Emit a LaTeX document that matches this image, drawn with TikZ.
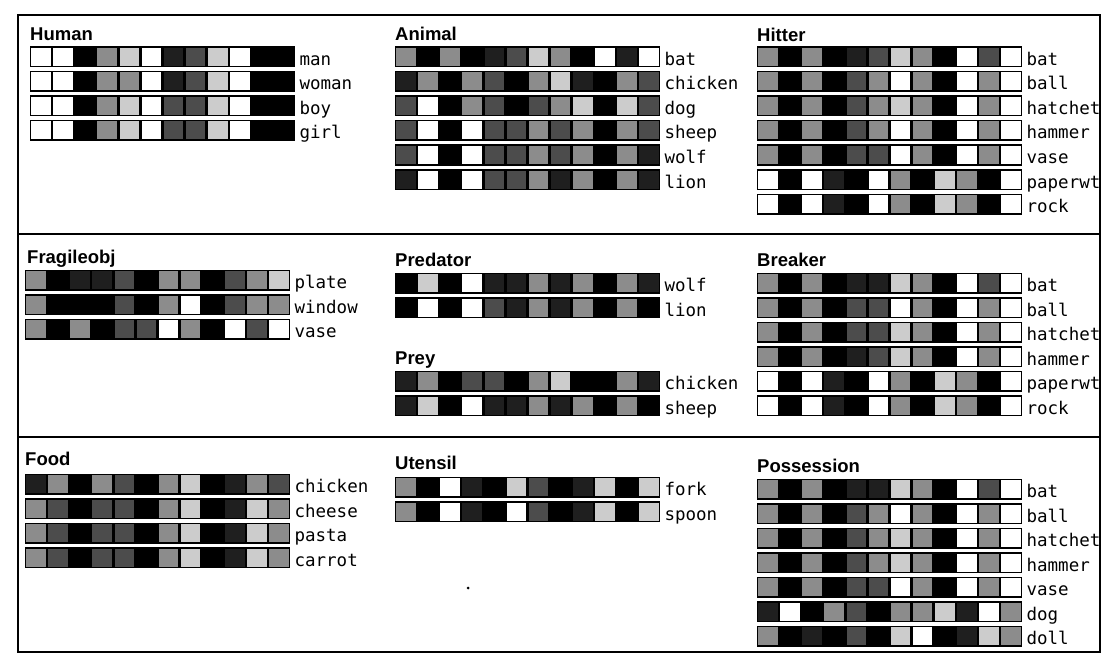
\documentclass[tikz,border=0pt]{standalone}
\usepackage{fontspec}
\setmainfont{Liberation Sans}
\setmonofont{DejaVu Sans Mono}
\usetikzlibrary{calc,positioning}

% grey levels of the dithered units (0 = off, 5 = fully on)
\definecolor{dither0}{gray}{0}
\definecolor{dither1}{gray}{0.12}
\definecolor{dither2}{gray}{0.3}
\definecolor{dither3}{gray}{0.55}
\definecolor{dither4}{gray}{0.8}
\definecolor{dither5}{gray}{1}

\begin{document}
\begin{tikzpicture}[
  x=1pt,y=-1pt,
  unitbar/.style={fill=black,inner sep=0pt,minimum width=265pt,
    minimum height=21pt,anchor=west},
  paneltitle/.style={font=\bfseries\fontsize{18.5}{18.5}\selectfont,
    anchor=base west,inner sep=0pt},
  wordlabel/.style={font=\ttfamily\fontsize{17.5}{17.5}\selectfont,
    inner sep=0pt},
  frameline/.style={line width=1.6pt,line cap=round}
]
  \useasboundingbox (0,0) rectangle (1108,666);

  % Unit geometry.
  \def\cellw{22.08}
  \def\cellgap{1.2}
  \def\rowstep{24.5}

  % #1 name, #2 left x, #3 y of first bar, #4 word/levels list
  \def\panelrows#1#2#3#4{%
    \foreach \word/\cells [count=\k] in {#4}{
      \node[unitbar] (#1\k) at (#2,{#3+\rowstep*(\k-1)}) {};
      \foreach \lev [count=\i from 0] in \cells
        \fill[fill=dither\lev]
          ($(#1\k.west)+({\i*\cellw+\cellgap},-9)$)
          rectangle ++({\cellw-2*\cellgap},18);
      \node[wordlabel,base right=4pt of #1\k,yshift=-8.5pt]
        (#1\k-word) {\word};
    }}

  % Frame and panel separators.
  \draw[frameline] (18,15) rectangle (1100,652);
  \draw[frameline] (18,234) -- (1100,234);
  \draw[frameline] (18,437) -- (1100,437);

  % Top row.
  \node[paneltitle] (human) at (30,41) {Human};
  \panelrows{human}{30}{57}{
    man/{5,5,0,3,4,5,1,2,4,5,0,0},
    woman/{5,5,0,3,3,5,1,2,4,5,0,0},
    boy/{5,5,0,3,4,5,2,2,4,5,0,0},
    girl/{5,5,0,3,4,5,2,2,4,5,0,0}}

  \node[paneltitle] (animal) at (395,41) {Animal};
  \panelrows{animal}{395}{57}{
    bat/{3,0,3,0,1,2,4,3,0,5,1,5},
    chicken/{1,3,0,3,2,0,3,4,1,0,3,2},
    dog/{2,5,0,3,2,0,2,3,4,0,4,2},
    sheep/{2,5,0,5,2,2,3,2,3,0,3,2},
    wolf/{2,5,0,5,2,2,3,2,3,0,3,1},
    lion/{1,5,0,5,2,2,3,1,3,0,3,1}}

  \node[paneltitle] (hitter) at (757,42) {Hitter};
  \panelrows{hitter}{757}{57}{
    bat/{3,0,3,0,1,2,4,3,0,5,2,5},
    ball/{3,0,3,0,2,3,5,3,0,5,3,5},
    hatchet/{3,0,3,0,2,3,4,3,0,5,3,5},
    hammer/{3,0,3,0,2,3,5,3,0,5,3,5},
    vase/{3,0,3,0,2,2,5,3,0,5,3,5},
    paperwt/{5,0,5,1,0,5,3,0,4,3,0,5},
    rock/{5,0,5,1,0,5,3,0,4,3,0,5}}

  % Middle row.
  \node[paneltitle] (fragile) at (27,263) {Fragileobj};
  \panelrows{fragile}{25}{280}{
    plate/{3,0,1,1,2,0,3,3,0,2,3,4},
    window/{3,0,0,0,2,0,3,5,0,2,3,3},
    vase/{3,0,3,0,2,2,5,3,0,5,2,5}}

  \node[paneltitle] (predator) at (395,266) {Predator};
  \panelrows{predator}{395}{283}{
    wolf/{0,4,0,5,1,1,3,1,3,0,3,1},
    lion/{0,5,0,5,2,1,3,1,3,0,3,0}}

  \node[paneltitle] (prey) at (395,364) {Prey};
  \panelrows{prey}{395}{381}{
    chicken/{1,3,0,2,2,0,3,4,0,0,3,1},
    sheep/{1,4,0,5,1,1,3,1,3,0,3,0}}

  \node[paneltitle] (breaker) at (757,266) {Breaker};
  \panelrows{breaker}{757}{283}{
    bat/{3,0,3,0,1,1,4,3,0,5,2,5},
    ball/{3,0,3,0,2,2,5,3,0,5,3,5},
    hatchet/{3,0,3,0,2,2,4,3,0,5,3,5},
    hammer/{3,0,3,0,1,2,4,3,0,5,3,5},
    paperwt/{5,0,5,1,0,5,3,0,4,3,0,5},
    rock/{5,0,5,1,0,5,3,0,4,3,0,5}}

  % Bottom row.
  \node[paneltitle] (food) at (25,465) {Food};
  \panelrows{food}{25}{484}{
    chicken/{1,3,0,3,2,0,3,4,0,1,3,2},
    cheese/{3,2,0,2,2,0,3,4,0,1,4,3},
    pasta/{3,2,0,2,2,0,3,4,0,1,4,3},
    carrot/{3,2,0,2,2,0,3,4,0,1,4,3}}

  \node[paneltitle] (utensil) at (395,469) {Utensil};
  \panelrows{utensil}{395}{487}{
    fork/{3,0,5,1,0,4,2,0,1,4,0,4},
    spoon/{3,0,5,1,0,5,2,0,1,4,0,4}}

  \node[paneltitle] (possession) at (757,472) {Possession};
  \panelrows{possession}{757}{489}{
    bat/{3,0,3,0,1,1,4,3,0,5,2,5},
    ball/{3,0,3,0,2,3,5,3,0,5,3,5},
    hatchet/{3,0,3,0,2,3,4,3,0,5,3,5},
    hammer/{3,0,3,0,2,3,4,3,0,5,3,5},
    vase/{3,0,3,0,2,2,5,3,0,5,3,5},
    dog/{1,5,0,3,2,0,3,3,4,1,5,3},
    doll/{3,0,1,0,2,0,4,5,0,1,4,3}}

  \fill (468,588) circle[radius=1.5];
\end{tikzpicture}
\end{document}
